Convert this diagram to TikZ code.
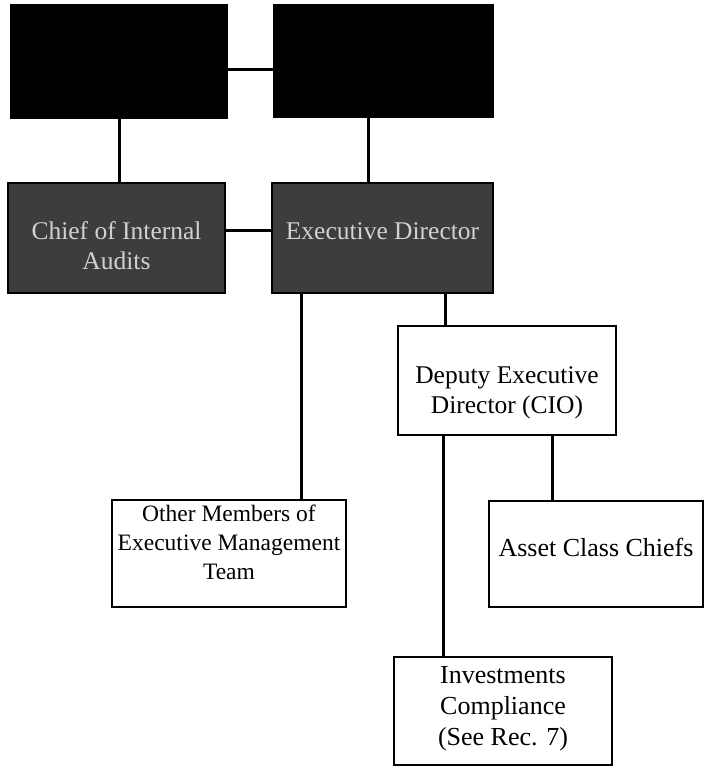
\documentclass[tikz,border=0pt]{standalone}
\usepackage{fontspec}
\setmainfont{Liberation Serif}
\begin{document}
\begin{tikzpicture}[x=1pt,y=1pt]
        \tikzstyle{darkbox}=[rectangle, draw, line width=2.8pt, fill=black, inner sep=0pt]
        \tikzstyle{graybox}=[rectangle, draw, line width=2.8pt, fill=black!76, inner sep=0pt]
        \tikzstyle{whitebox}=[rectangle, draw, line width=2.8pt, fill=white, inner sep=0pt]
        \tikzstyle{boxtext}=[align=center, inner sep=0pt, font=\fontsize{25.5}{29.5}\selectfont]
        \tikzstyle{conn}=[line width=3pt]
        \useasboundingbox (0,0) rectangle (708,771);
        % top row
        \node[darkbox, minimum width=216, minimum height=113] (topl) at (119,709.5) {};
        \node[darkbox, minimum width=219, minimum height=112] (topr) at (383.5,710) {};
        % second row
        \node[graybox, minimum width=217, minimum height=110] (chief) at (116.5,533) {};
        \node[graybox, minimum width=221, minimum height=110] (exec) at (382.5,533) {};
        \node[boxtext, text=white!82!black] (chieftext) at ([yshift=-7.5pt]chief.center) {Chief of Internal\\Audits};
        \node[boxtext, text=white!82!black] (exectext) at ([yshift=6.5pt]exec.center) {Executive Director};
        % lower boxes
        \node[whitebox, minimum width=218, minimum height=109] (deputy) at (507,390.5) {};
        \node[boxtext, font=\fontsize{25.5}{30}\selectfont] (deputytext) at ([yshift=-12pt]deputy.center) {Deputy Executive\\Director (CIO)};
        \node[whitebox, minimum width=234, minimum height=107] (other) at (229,217.5) {};
        \node[boxtext, font=\fontsize{23.5}{29}\selectfont] (othertext) at ([yshift=11pt]other.center) {Other Members of\\Executive Management\\Team};
        \node[whitebox, minimum width=214, minimum height=106] (asset) at (596,217) {};
        \node[boxtext, font=\fontsize{26}{30}\selectfont] (assettext) at ([yshift=7pt]asset.center) {Asset Class Chiefs};
        \node[whitebox, minimum width=218, minimum height=108] (invest) at (503,60) {};
        \node[boxtext, font=\fontsize{26}{31}\selectfont] (investtext) at ([yshift=2pt]invest.center) {Investments\\Compliance\\(See Rec. 7)};
        % connectors
        \draw[conn] ([yshift=-8.5pt]topl.east) -- ([yshift=-8.5pt]topl.east -| topr.west);
        \draw[conn] (topl.south) -- (topl.south |- chief.north);
        \draw[conn] ([xshift=-15.5pt]topr.south) -- ([xshift=-15.5pt]topr.south |- exec.north);
        \draw[conn] ([yshift=7pt]chief.east) -- ([yshift=7pt]chief.east -| exec.west);
        \draw[conn] ([xshift=-81pt]exec.south) -- ([xshift=-81pt]exec.south |- other.north);
        \draw[conn] ([xshift=62.5pt]exec.south) -- ([xshift=62.5pt]exec.south |- deputy.north);
        \draw[conn] ([xshift=-64pt]deputy.south) -- ([xshift=-64pt]deputy.south |- invest.north);
        \draw[conn] ([xshift=45pt]deputy.south) -- ([xshift=45pt]deputy.south |- asset.north);
\end{tikzpicture}
\end{document}
